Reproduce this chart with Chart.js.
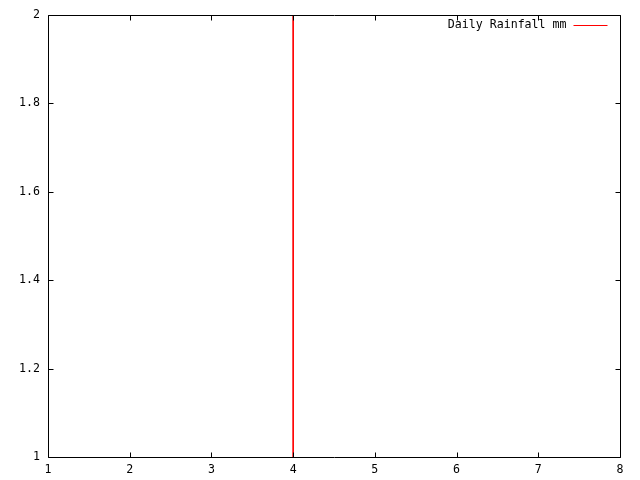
<!DOCTYPE html>
<html><head><meta charset="utf-8">
<script src="https://cdn.jsdelivr.net/npm/chart.js@4"></script>
<style>html,body{margin:0;padding:0;background:#fff}#w{width:640px;height:480px}</style>
</head><body><div id="w"><canvas id="c"></canvas></div>
<script>
const seriesLabel = "Daily Rainfall mm";
const dayValues = [4];
const rainValues = [2];
const xTickLabels = [1, 2, 3, 4, 5, 6, 7, 8];
const yTickLabels = [1, 1.2, 1.4, 1.6, 1.8, 2];

const FONT = {family: "'DejaVu Sans Mono', monospace", size: 11.6};

const frame = {
  id: 'frame',
  afterDatasetsDraw(chart) {
    const {ctx, chartArea: a, scales: {x, y}} = chart;
    ctx.save();
    ctx.strokeStyle = '#000';
    ctx.lineWidth = 1;
    ctx.beginPath();
    const L = Math.round(a.left) + 0.5, R = Math.round(a.right) + 0.5;
    const T = Math.round(a.top) + 0.5, B = Math.round(a.bottom) + 0.5;
    ctx.rect(L, T, R - L, B - T);
    const tl = 5;
    xTickLabels.forEach(v => {
      const px = Math.round(x.getPixelForValue(v)) + 0.5;
      ctx.moveTo(px, B); ctx.lineTo(px, B - tl);
      ctx.moveTo(px, T); ctx.lineTo(px, T + tl);
    });
    yTickLabels.forEach(v => {
      const py = Math.round(y.getPixelForValue(v)) + 0.5;
      ctx.moveTo(L, py); ctx.lineTo(L + tl, py);
      ctx.moveTo(R, py); ctx.lineTo(R - tl, py);
    });
    ctx.stroke();
    // legend
    const ds = chart.data.datasets[0];
    ctx.font = FONT.size + 'px ' + FONT.family;
    ctx.fillStyle = '#000';
    ctx.textAlign = 'right';
    ctx.textBaseline = 'middle';
    const ly = Math.round(T + 9);
    ctx.fillText(ds.label, R - 54, ly);
    ctx.strokeStyle = ds.backgroundColor;
    ctx.beginPath();
    ctx.moveTo(R - 47, ly + 0.5);
    ctx.lineTo(R - 13, ly + 0.5);
    ctx.stroke();
    ctx.restore();
  }
};

new Chart(document.getElementById('c'), {
  type: 'bar',
  data: {
    datasets: [{
      label: seriesLabel,
      data: dayValues.map((d, i) => ({x: d, y: rainValues[i]})),
      backgroundColor: '#ff0000',
      borderWidth: 0,
      barThickness: 1
    }]
  },
  options: {
    responsive: true,
    maintainAspectRatio: false,
    animation: false,
    devicePixelRatio: 1,
    layout: {padding: {top: 14, right: 20, left: 0, bottom: 0}},
    plugins: {legend: {display: false}, tooltip: {enabled: false}},
    scales: {
      x: {
        type: 'linear', min: 1, max: 8, offset: false,
        grid: {display: false, drawTicks: false},
        border: {display: false},
        afterBuildTicks: s => { s.ticks = xTickLabels.map(v => ({value: v})); },
        ticks: {color: '#000', font: FONT, padding: 6, maxRotation: 0, autoSkip: false,
                callback: v => String(v)},
        afterFit: s => { s.height = 23; }
      },
      y: {
        type: 'linear', min: 1, max: 2,
        grid: {display: false, drawTicks: false},
        border: {display: false},
        afterBuildTicks: s => { s.ticks = yTickLabels.map(v => ({value: v})); },
        ticks: {color: '#000', font: FONT, padding: 8, autoSkip: false,
                callback: v => String(v)},
        afterFit: s => { s.width = 48; }
      }
    }
  },
  plugins: [frame]
});
</script></body></html>
